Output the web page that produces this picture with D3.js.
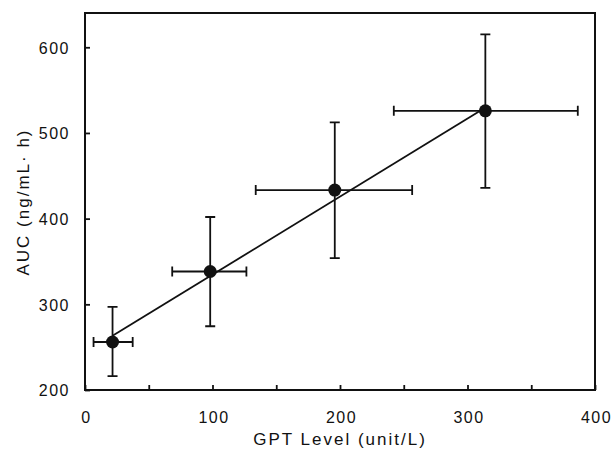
<!DOCTYPE html>
<html>
<head>
<meta charset="utf-8">
<script src="https://cdn.jsdelivr.net/npm/d3@7"></script>
<style>
  body { margin: 0; background: #fff; }
  svg { display: block; }
  text { font-family: Arial, "Liberation Sans", sans-serif; fill: #111; }
</style>
</head>
<body>
<svg id="chart"></svg>
<script>
// mean GPT level (x) with its spread, mean AUC (y) with its spread
var gpt     = [21.6, 98.2, 195.9, 314.0];
var gptLow  = [6.7, 68.4, 133.9, 242.2];
var gptHigh = [37.4, 126.6, 256.6, 386.5];
var auc     = [256.0, 338.3, 433.3, 525.8];
var aucLow  = [216.3, 274.4, 353.9, 436.0];
var aucHigh = [296.9, 401.9, 512.4, 615.0];

// fitted line end points
var fitX = [21.6, 310];
var fitY = [263.2, 526];

var xTicks = [0, 50, 100, 150, 200, 250, 300, 350, 400];
var yTicks = [200, 300, 400, 500, 600];

var svgWidth = 614, svgHeight = 459;
var plotLeft = 85, plotRight = 595, plotTop = 13, plotBottom = 390;

var svg = d3.select("#chart")
	.attr("width", svgWidth)
	.attr("height", svgHeight);

var xScale = d3.scaleLinear().domain([0, 400]).range([plotLeft, plotRight]);
var yScale = d3.scaleLinear().domain([200, 640]).range([plotBottom, plotTop]);

var ink = "#111";

// frame
svg.append("rect")
	.attr("x", plotLeft).attr("y", plotTop)
	.attr("width", plotRight - plotLeft).attr("height", plotBottom - plotTop)
	.attr("fill", "none").attr("stroke", ink).attr("stroke-width", 2);

var xAxis = d3.axisBottom(xScale)
	.tickValues(xTicks)
	.tickSizeInner(-5).tickSizeOuter(0)
	.tickFormat(function(d) { return d % 100 === 0 ? d : ""; });

var gx = svg.append("g")
	.attr("transform", "translate(0," + plotBottom + ")")
	.call(xAxis);
gx.select(".domain").remove();
gx.selectAll("line").attr("stroke", ink).attr("stroke-width", 1.8);
gx.selectAll("text")
	.attr("y", 33).attr("dy", 0)
	.attr("dx", 1)
	.style("font-size", "16px")
	.style("letter-spacing", "1.5px")
	.attr("fill", ink);

var yAxis = d3.axisLeft(yScale)
	.tickValues(yTicks)
	.tickSizeInner(-5).tickSizeOuter(0);

var gy = svg.append("g")
	.attr("transform", "translate(" + plotLeft + ",0)")
	.call(yAxis);
gy.select(".domain").remove();
gy.selectAll("line").attr("stroke", ink).attr("stroke-width", 1.8);
gy.selectAll("text")
	.attr("x", -15).attr("dy", "0.36em")
	.style("font-size", "16px")
	.style("letter-spacing", "1.5px")
	.attr("fill", ink);

// axis titles
svg.append("text")
	.attr("x", 340).attr("y", 445)
	.attr("text-anchor", "middle")
	.style("font-size", "17px")
	.style("letter-spacing", "2px")
	.text("GPT Level (unit/L)");

svg.append("text")
	.attr("transform", "translate(29,202) rotate(-90)")
	.attr("text-anchor", "middle")
	.style("font-size", "17px")
	.style("letter-spacing", "2px")
	.text("AUC (ng/mL· h)");

// fitted line
svg.append("line")
	.attr("x1", xScale(fitX[0])).attr("y1", yScale(fitY[0]))
	.attr("x2", xScale(fitX[1])).attr("y2", yScale(fitY[1]))
	.attr("stroke", ink).attr("stroke-width", 1.8);

var idx = d3.range(gpt.length);
var cap = 5;

// vertical error bars
svg.selectAll(".vbar").data(idx).enter().append("path")
	.attr("class", "vbar")
	.attr("fill", "none").attr("stroke", ink).attr("stroke-width", 1.8)
	.attr("d", function(i) {
		var x = xScale(gpt[i]), y1 = yScale(aucLow[i]), y2 = yScale(aucHigh[i]);
		return "M" + x + "," + y1 + "V" + y2 +
			"M" + (x - cap) + "," + y1 + "H" + (x + cap) +
			"M" + (x - cap) + "," + y2 + "H" + (x + cap);
	});

// horizontal error bars
svg.selectAll(".hbar").data(idx).enter().append("path")
	.attr("class", "hbar")
	.attr("fill", "none").attr("stroke", ink).attr("stroke-width", 1.8)
	.attr("d", function(i) {
		var y = yScale(auc[i]), x1 = xScale(gptLow[i]), x2 = xScale(gptHigh[i]);
		return "M" + x1 + "," + y + "H" + x2 +
			"M" + x1 + "," + (y - cap) + "V" + (y + cap) +
			"M" + x2 + "," + (y - cap) + "V" + (y + cap);
	});

// mean points
svg.selectAll(".dot").data(idx).enter().append("circle")
	.attr("class", "dot")
	.attr("cx", function(i) { return xScale(gpt[i]); })
	.attr("cy", function(i) { return yScale(auc[i]); })
	.attr("r", 6.5)
	.attr("fill", ink);
</script>
</body>
</html>
